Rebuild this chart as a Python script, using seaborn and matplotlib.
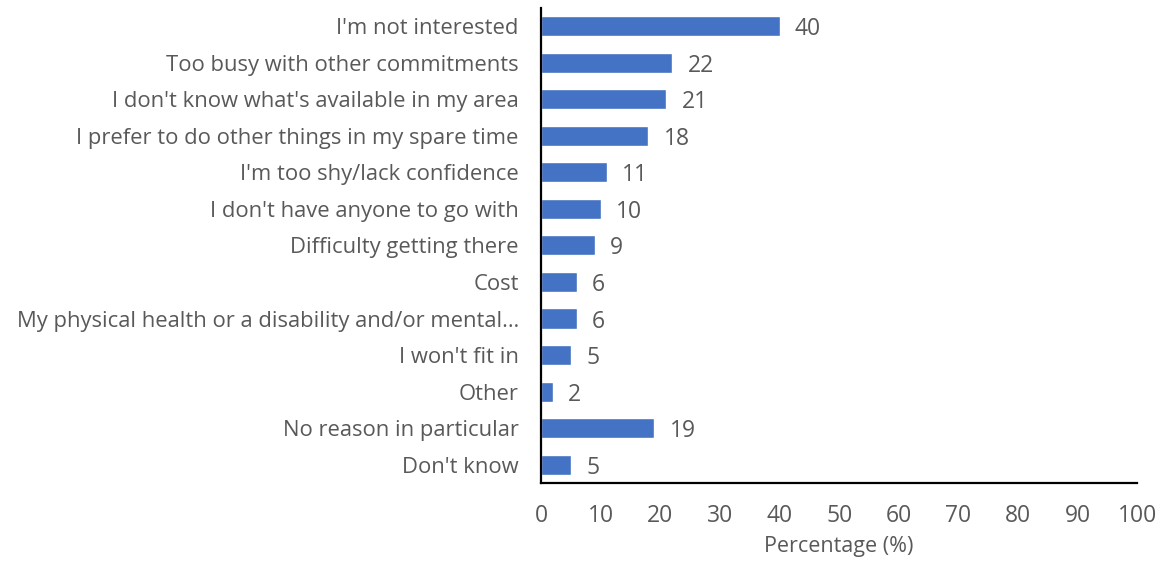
import matplotlib
matplotlib.use("Agg")
import matplotlib.pyplot as plt
import seaborn as sns
import pandas as pd

categories = [
    "I'm not interested",
    "Too busy with other commitments",
    "I don't know what's available in my area",
    "I prefer to do other things in my spare time",
    "I'm too shy/lack confidence",
    "I don't have anyone to go with",
    "Difficulty getting there",
    "Cost",
    "My physical health or a disability and/or mental\u2026",
    "I won't fit in",
    "Other",
    "No reason in particular",
    "Don't know",
]
values = [40, 22, 21, 18, 11, 10, 9, 6, 6, 5, 2, 19, 5]
x_ticks = [0, 10, 20, 30, 40, 50, 60, 70, 80, 90, 100]

df = pd.DataFrame({"reason": categories, "pct": values})

sns.set_theme(style="white")
plt.rcParams["font.family"] = ["Open Sans", "DejaVu Sans"]

text_color = "#595959"
bar_color = "#4472C4"
fs_cat = 15.8
fs_num = 16.5

fig = plt.figure(figsize=(11.59, 5.62), dpi=100)
ax = fig.add_axes([0.4668, 0.1406, 0.5145, 0.8454])

sns.barplot(data=df, y="reason", x="pct", orient="h", color=bar_color,
            width=0.55, saturation=1, ax=ax)

for i, v in enumerate(values):
    ax.annotate(str(v), xy=(v, i), xytext=(11, 0), textcoords="offset points",
                va="center_baseline", ha="left", fontsize=fs_num, color=text_color)

ax.set_xlim(0, 100)
ax.set_ylim(len(categories) - 0.5, -0.5)
ax.set_xticks(x_ticks)
ax.set_xticklabels([str(t) for t in x_ticks])
ax.set_xlabel("Percentage (%)", fontsize=15.5, color=text_color, labelpad=6)
ax.set_ylabel("")
ax.tick_params(axis="x", length=0, pad=15, labelsize=fs_num, labelcolor=text_color)
ax.tick_params(axis="y", length=0, pad=16, labelsize=fs_cat, labelcolor=text_color)

for side in ["top", "right"]:
    ax.spines[side].set_visible(False)
for side in ["left", "bottom"]:
    ax.spines[side].set_color("black")
    ax.spines[side].set_linewidth(1.6)
ax.grid(False)

fig.savefig("out.png", dpi=100)
